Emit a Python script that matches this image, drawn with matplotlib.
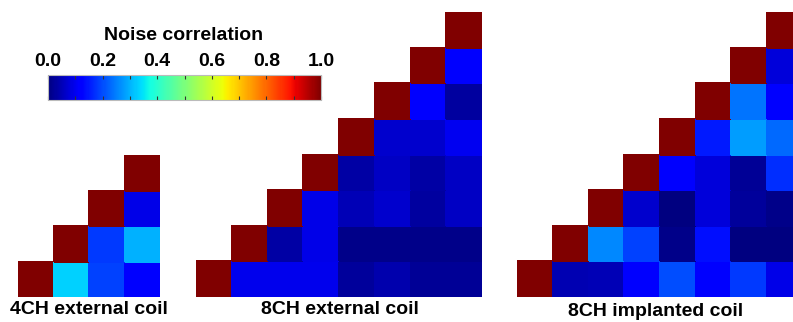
import numpy as np
import matplotlib
matplotlib.use('Agg')
import matplotlib.pyplot as plt
from matplotlib.cm import ScalarMappable
from matplotlib.colors import Normalize

plt.rcParams['font.family'] = ['Liberation Sans', 'DejaVu Sans']

# noise correlation, rows listed from the bottom row upwards,
# only the upper triangle (col >= row) is shown
nan = np.nan
corr_4ch = [
    [1.00, 0.33, 0.19, 0.12],
    [nan, 1.00, 0.18, 0.30],
    [nan, nan, 1.00, 0.09],
    [nan, nan, nan, 1.00],
]
corr_8ch_ext = [
    [1.00, 0.095, 0.095, 0.095, 0.025, 0.04, 0.02, 0.02],
    [nan, 1.00, 0.035, 0.09, 0.01, 0.01, 0.01, 0.01],
    [nan, nan, 1.00, 0.09, 0.05, 0.07, 0.03, 0.06],
    [nan, nan, nan, 1.00, 0.035, 0.06, 0.035, 0.06],
    [nan, nan, nan, nan, 1.00, 0.07, 0.07, 0.10],
    [nan, nan, nan, nan, nan, 1.00, 0.12, 0.03],
    [nan, nan, nan, nan, nan, nan, 1.00, 0.12],
    [nan, nan, nan, nan, nan, nan, nan, 1.00],
]
corr_8ch_imp = [
    [1.00, 0.045, 0.05, 0.12, 0.20, 0.11, 0.18, 0.09],
    [nan, 1.00, 0.26, 0.19, 0.01, 0.14, 0.0, 0.0],
    [nan, nan, 1.00, 0.07, 0.0, 0.08, 0.025, 0.01],
    [nan, nan, nan, 1.00, 0.11, 0.08, 0.02, 0.17],
    [nan, nan, nan, nan, 1.00, 0.15, 0.28, 0.23],
    [nan, nan, nan, nan, nan, 1.00, 0.24, 0.12],
    [nan, nan, nan, nan, nan, nan, 1.00, 0.08],
    [nan, nan, nan, nan, nan, nan, nan, 1.00],
]
titles = ['4CH external coil', '8CH external coil', '8CH implanted coil']
cbar_ticks = [0.0, 0.2, 0.4, 0.6, 0.8, 1.0]

W, H = 793, 322
cmap = plt.get_cmap('jet')
norm = Normalize(0, 1)

fig = plt.figure(figsize=(W / 100, H / 100), dpi=100)


def px_axes(x0, y0, x1, y1):
    # pixel box (top-left origin) -> figure axes
    return fig.add_axes([x0 / W, (H - y1) / H, (x1 - x0) / W, (y1 - y0) / H])


def draw_matrix(ax, data):
    m = np.ma.masked_invalid(np.array(data, dtype=float))
    ax.pcolormesh(m, cmap=cmap, norm=norm, edgecolors='face', linewidth=0.2)
    ax.set_xlim(0, m.shape[1])
    ax.set_ylim(0, m.shape[0])
    ax.axis('off')


boxes = [(18, 155, 160, 297), (196, 12, 482, 297), (517, 12, 803, 297)]
for box, data in zip(boxes, [corr_4ch, corr_8ch_ext, corr_8ch_imp]):
    draw_matrix(px_axes(*box), data)

fig.text(89 / W, 1 - 310 / H, titles[0], ha='center', va='center',
         fontsize=14, fontweight='bold')
fig.text(340 / W, 1 - 310 / H, titles[1], ha='center', va='center',
         fontsize=14, fontweight='bold')
fig.text(656 / W, 1 - 312 / H, titles[2], ha='center', va='center',
         fontsize=14, fontweight='bold')

# colorbar
cax = px_axes(48, 75, 321, 100)
cb = fig.colorbar(ScalarMappable(norm=norm, cmap=cmap), cax=cax,
                  orientation='horizontal')
cb.outline.set_edgecolor('#bbbbbb')
cb.outline.set_linewidth(0.8)
cax.xaxis.set_ticks_position('both')
cax.set_xticks(cbar_ticks)
cax.set_xticks(np.arange(0.1, 1.0, 0.2), minor=True)
cax.tick_params(which='both', direction='in', length=3, width=0.8,
                colors='#333333', top=True, bottom=True,
                labelbottom=False, labeltop=False)
for t in cbar_ticks:
    fig.text((48 + t * 273) / W, 1 - 61 / H, f'{t:.1f}', ha='center',
             va='center', fontsize=14, fontweight='bold')
fig.text(184 / W, 1 - 36 / H, 'Noise correlation', ha='center',
         va='center', fontsize=14, fontweight='bold')

fig.savefig('out.png', dpi=100)
